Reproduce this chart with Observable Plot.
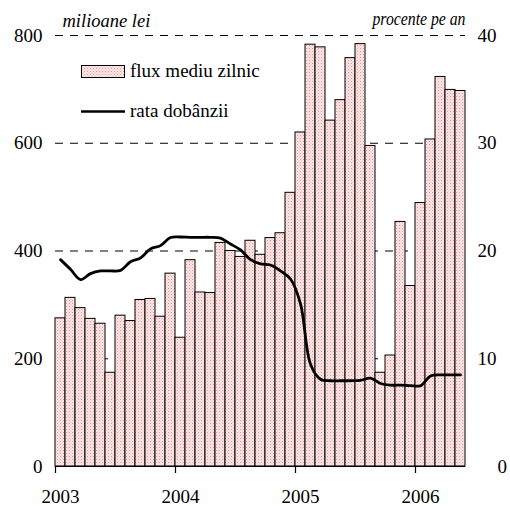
<!DOCTYPE html>
<html>
<head>
<meta charset="utf-8">
<script src="https://cdn.jsdelivr.net/npm/d3@7"></script>
<script src="https://cdn.jsdelivr.net/npm/@observablehq/plot@0.6"></script>
<style>
  html, body { margin: 0; padding: 0; background: #fff; }
  #wrap { position: relative; width: 510px; height: 506px; font-family: 'Liberation Serif', serif; }
  #legend { position: absolute; left: 81px; top: 61px; font-family: 'Liberation Serif', serif; font-size: 19px; color: #000; }
  #legend span { font-family: 'Liberation Serif', serif; }
  .row { display: flex; align-items: center; height: 20px; }
  .row svg { margin-right: 5px; }
  .row + .row { margin-top: 20px; }
  #chart svg text { font-family: 'Liberation Serif', serif; }
</style>
</head>
<body>
<svg width="0" height="0" style="position:absolute">
  <defs>
    <pattern id="pinkdots" patternUnits="userSpaceOnUse" width="3" height="3">
      <rect width="3" height="3" fill="#fdeaea"></rect>
      <rect x="0" y="0" width="1" height="1" fill="#ec8e8e"></rect>
      <rect x="1.5" y="1.5" width="1" height="1" fill="#f0a4a4"></rect>
    </pattern>
  </defs>
</svg>
<div id="wrap">
  <div id="chart"></div>
  <div id="legend">
    <div class="row"><svg width="44" height="13"><rect x="0.5" y="0.5" width="43" height="12" fill="url(#pinkdots)" stroke="#000"></rect></svg><span>flux mediu zilnic</span></div>
    <div class="row"><svg width="44" height="13"><line x1="0" x2="44" y1="6.5" y2="6.5" stroke="#000" stroke-width="2.6"></line></svg><span>rata dobânzii</span></div>
  </div>
</div>
<script>
// Monthly data, Jan 2003 – May 2006
const years = ["2003", "2004", "2005", "2006"];
const flux = [
  275, 313, 294, 274, 265, 174, 280, 270, 309, 311, 278, 358,
  239, 383, 323, 322, 415, 400, 389, 419, 393, 424, 433, 508,
  620, 783, 778, 642, 680, 758, 784, 595, 174, 206, 454, 335,
  489, 607, 723, 699, 697
];
const rata = [
  19.2, 18.3, 17.35, 17.9, 18.15, 18.15, 18.2, 19.0, 19.35, 20.2, 20.5, 21.25,
  21.3, 21.27, 21.27, 21.27, 21.2, 20.65, 20.1, 19.2, 18.8, 18.7, 18.15, 17.4,
  15.1, 9.5, 8.1, 7.96, 7.96, 7.96, 8.0, 8.2, 7.7, 7.55, 7.55, 7.5,
  7.5, 8.4, 8.5, 8.5, 8.5
];
const leftTicks = [0, 200, 400, 600, 800];
const rightTicks = [0, 10, 20, 30, 40];
const leftTitle = "milioane lei";
const rightTitle = "procente pe an";
const ratio = 20; // 40% on the right axis aligns with 800 on the left

const bars = flux.map((v, i) => ({ i, v }));
const pts = rata.map((r, i) => ({ i, r }));
const yearTicks = years.map((y, k) => k * 12);
const FONT = "'Liberation Serif', serif";
const FS = 19;

const chart = Plot.plot({
  width: 510,
  height: 506,
  marginLeft: 55,
  marginRight: 45,
  marginTop: 35,
  marginBottom: 40,
  style: "font-family: 'Liberation Serif', serif; font-size: 19px; color: #000; background: #fff; overflow: visible;",
  x: { type: "linear", domain: [0, flux.length] },
  y: { domain: [0, 800] },
  marks: [
    Plot.ruleY(leftTicks.filter(d => d > 0), { stroke: "#000", strokeDasharray: "8,7", strokeWidth: 1 }),
    Plot.rectY(bars, { x1: "i", x2: d => d.i + 1, y: "v", fill: "url(#pinkdots)", stroke: "#000", strokeWidth: 1, insetLeft: 0, insetRight: 0 }),
    Plot.line(pts, { x: d => d.i + 0.5, y: d => d.r * ratio, stroke: "#000", strokeWidth: 2.8, curve: "catmull-rom" }),
    Plot.ruleY([0], { stroke: "#000", strokeWidth: 1.2 }),
    Plot.axisY({ anchor: "left", ticks: leftTicks, tickSize: 0, tickPadding: 13, label: null, fontFamily: FONT, fontSize: FS }),
    Plot.axisY({ anchor: "right", ticks: rightTicks.filter(d => d > 0).map(d => d * ratio), tickFormat: d => d / ratio, tickSize: 0, tickPadding: 12, textAnchor: "start", label: null, fontFamily: FONT, fontSize: FS }),
    Plot.axisY({ anchor: "right", ticks: [0], tickFormat: d => d / ratio, tickSize: 0, tickPadding: 32, textAnchor: "start", label: null, fontFamily: FONT, fontSize: FS }),
    Plot.axisX({ ticks: yearTicks, tickSize: 7, tickFormat: () => "", label: null, strokeWidth: 1.2 }),
    Plot.axisX({ ticks: yearTicks.map(t => t + 0.5), tickSize: 0, tickPadding: 23, tickFormat: d => years[Math.floor(d / 12)], label: null, fontFamily: FONT, fontSize: FS }),
    Plot.text([leftTitle], { frameAnchor: "top-left", text: d => d, textAnchor: "start", lineAnchor: "bottom", dx: 7, dy: -9, fontStyle: "italic", fontSize: 18.5, fontFamily: FONT }),
    Plot.text([rightTitle], { frameAnchor: "top-right", text: d => d, textAnchor: "end", lineAnchor: "bottom", dx: 0, dy: -11, fontStyle: "italic", fontSize: 18.5, fontFamily: FONT })
  ]
});
d3.select(chart).selectAll("text")
  .filter(function () { return this.textContent === rightTitle; })
  .attr("textLength", 93)
  .attr("lengthAdjust", "spacingAndGlyphs");
document.getElementById("chart").appendChild(chart);
</script>
</body>
</html>
